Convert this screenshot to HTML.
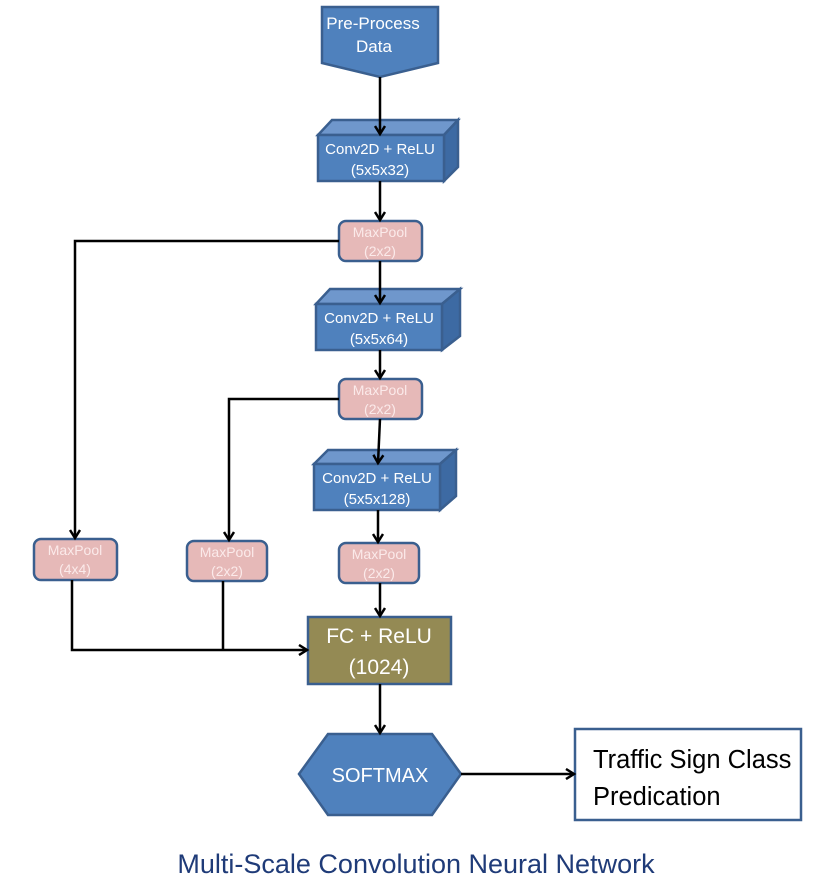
<!DOCTYPE html>
<html><head><style>body{margin:0;background:#fff}svg{display:block}text{font-family:"Liberation Sans",sans-serif}</style></head><body>
<svg width="821" height="890" viewBox="0 0 821 890">
<defs><marker id="a" markerWidth="12" markerHeight="12" refX="9" refY="6" orient="auto" markerUnits="userSpaceOnUse"><path d="M1,1 L9,6 L1,11" fill="none" stroke="#000" stroke-width="2.5"/></marker></defs>
<g stroke="#3a5f8f" stroke-width="2.5">
<polygon points="322,7 438,7 438,63 380,77 322,63" fill="#4f81bd"/>
<polygon points="318,135 332,120 458,120 444,135" fill="#6f97cc"/><polygon points="444,135 458,120 458,167 444,181" fill="#3d6aa3"/><rect x="318" y="135" width="126" height="46" fill="#4f81bd"/>
<polygon points="316,304 330,289 460,289 442,304" fill="#6f97cc"/><polygon points="442,304 460,289 460,336 442,350" fill="#3d6aa3"/><rect x="316" y="304" width="126" height="46" fill="#4f81bd"/>
<polygon points="314,464 328,450 456,450 440,464" fill="#6f97cc"/><polygon points="440,464 456,450 456,496 440,510" fill="#3d6aa3"/><rect x="314" y="464" width="126" height="46" fill="#4f81bd"/>
<rect x="339" y="221" width="83" height="40" rx="7" fill="#e6b9b8"/>
<rect x="339" y="379" width="83" height="40" rx="7" fill="#e6b9b8"/>
<rect x="339" y="543" width="80" height="40" rx="7" fill="#e6b9b8"/>
<rect x="34" y="539" width="83" height="41" rx="7" fill="#e6b9b8"/>
<rect x="187" y="541" width="80" height="40" rx="7" fill="#e6b9b8"/>
<rect x="308" y="617" width="143" height="67" fill="#948a54"/>
<polygon points="299,774 328,734 432,734 461,774 432,815 328,815" fill="#4f81bd"/>
<rect x="575" y="729" width="226" height="91" fill="#fff" stroke="#3a5f8f"/>
</g>
<g stroke="#000" stroke-width="2.5" fill="none">
<line x1="380" y1="77" x2="380" y2="134" marker-end="url(#a)"/>
<line x1="380" y1="181" x2="380" y2="220" marker-end="url(#a)"/>
<polyline points="339,241 75,241 75,538" marker-end="url(#a)"/>
<line x1="380" y1="261" x2="380" y2="303" marker-end="url(#a)"/>
<line x1="380" y1="350" x2="380" y2="378" marker-end="url(#a)"/>
<polyline points="339,399 229,399 229,540" marker-end="url(#a)"/>
<line x1="380" y1="419" x2="378" y2="463" marker-end="url(#a)"/>
<line x1="378" y1="510" x2="378" y2="542" marker-end="url(#a)"/>
<line x1="380" y1="583" x2="380" y2="616" marker-end="url(#a)"/>
<polyline points="72,580 72,650 307,650" marker-end="url(#a)"/>
<line x1="223" y1="581" x2="223" y2="650"/>
<line x1="380" y1="684" x2="380" y2="733" marker-end="url(#a)"/>
<line x1="461" y1="774" x2="574" y2="774" marker-end="url(#a)"/>
</g>
<g fill="#fff" text-anchor="middle" font-size="15">
<text x="373" y="29" font-size="17">Pre-Process</text><text x="374" y="52" font-size="17">Data</text>
<text x="380" y="154">Conv2D + ReLU</text><text x="380" y="175">(5x5x32)</text>
<text x="379" y="323">Conv2D + ReLU</text><text x="379" y="344">(5x5x64)</text>
<text x="377" y="483">Conv2D + ReLU</text><text x="377" y="504">(5x5x128)</text>
<g font-size="14" fill="#fbeaea"><text x="380" y="237">MaxPool</text><text x="380" y="256">(2x2)</text>
<text x="380" y="395">MaxPool</text><text x="380" y="414">(2x2)</text>
<text x="379" y="559">MaxPool</text><text x="379" y="578">(2x2)</text>
<text x="75" y="555">MaxPool</text><text x="75" y="574">(4x4)</text>
<text x="227" y="557">MaxPool</text><text x="227" y="576">(2x2)</text></g>
<text x="379" y="643" font-size="21">FC + ReLU</text><text x="379" y="674" font-size="21">(1024)</text>
<text x="380" y="782" font-size="20">SOFTMAX</text>
</g>
<text x="593" y="768" font-size="25.5" fill="#000">Traffic Sign Class</text>
<text x="593" y="805" font-size="25.5" fill="#000">Predication</text>
<text x="416" y="873" font-size="27" fill="#1f3b78" text-anchor="middle">Multi-Scale Convolution Neural Network</text>
</svg></body></html>
